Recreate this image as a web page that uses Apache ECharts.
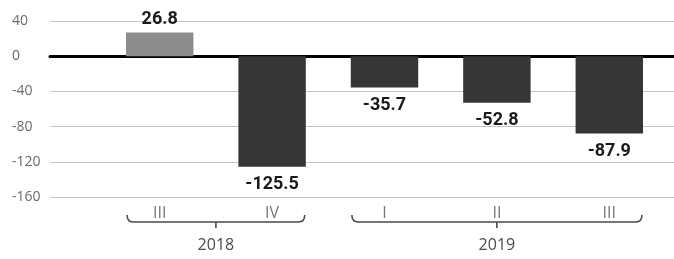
<!DOCTYPE html>
<html>
<head>
<meta charset="utf-8">
<script src="https://cdn.jsdelivr.net/npm/echarts@6/dist/echarts.min.js"></script>
<style>
  html, body { margin: 0; padding: 0; background: #fff; }
  #chart { width: 674px; height: 259px; }
</style>
</head>
<body>
<div id="chart"></div>
<script>
const quarters = ["III", "IV", "I", "II", "III"];
const values = [26.8, -125.5, -35.7, -52.8, -87.9];
const barColors = ["#8c8c8c", "#363636", "#363636", "#363636", "#363636"];
// year groups: first quarter index, last quarter index, label
const years = [[0, 1, "2018"], [2, 4, "2019"]];
const yTicks = { min: -160, max: 40, interval: 40 };

const GRID_TOP = 21;
const GRID_HEIGHT = 176;

const chart = echarts.init(document.getElementById("chart"));

const renderBracket = (params, api) => {
  const cs = params.coordSys;
  const band = api.size([1, 0])[0];
  const half = band * 0.29;
  const x0 = api.coord([api.value(0), 0])[0] - half;
  const x1 = api.coord([api.value(1), 0])[0] + half;
  const xc = (x0 + x1) / 2;
  const yb = cs.y + cs.height + 25;
  return {
    type: "group",
    children: [
      {
        type: "path",
        shape: {
          pathData:
            `M${x0} ${yb - 7} Q${x0} ${yb} ${x0 + 6} ${yb} L${x1 - 6} ${yb} Q${x1} ${yb} ${x1} ${yb - 7}` +
            ` M${xc} ${yb} L${xc} ${yb + 6}`,
        },
        style: { fill: null, stroke: "#4a4a4a", lineWidth: 1.6 },
      },
      {
        type: "text",
        style: {
          x: xc,
          y: yb + 23,
          text: api.value(2),
          fill: "#4a4a4a",
          font: "16px 'Open Sans'",
          align: "center",
          verticalAlign: "middle",
        },
      },
    ],
  };
};

chart.setOption({
  animation: false,
  grid: [
    { left: 50, right: 0, top: GRID_TOP, height: GRID_HEIGHT },
    { left: 103.5, right: 8.5, top: GRID_TOP, height: GRID_HEIGHT },
  ],
  xAxis: [
    {
      gridIndex: 0,
      type: "category",
      data: [""],
      axisLine: { show: true, onZero: true, lineStyle: { color: "#000", width: 3 } },
      axisTick: { show: false },
      axisLabel: { show: false },
    },
    {
      gridIndex: 1,
      type: "category",
      data: quarters,
      axisLine: { show: false },
      axisTick: { show: false },
      axisLabel: {
        color: "#777",
        fontSize: 16,
        fontFamily: "Open Sans",
        margin: 8,
      },
    },
  ],
  yAxis: [
    {
      gridIndex: 0,
      type: "value",
      ...yTicks,
      axisLine: { show: false },
      axisTick: { show: false },
      axisLabel: {
        color: "#6a6a6a",
        fontSize: 14,
        fontFamily: "Open Sans",
        align: "left",
        margin: 38,
      },
      splitLine: { lineStyle: { color: "#c4c4c4", width: 1 } },
    },
    {
      gridIndex: 1,
      type: "value",
      ...yTicks,
      show: false,
      splitLine: { show: false },
    },
  ],
  series: [
    {
      type: "bar",
      xAxisIndex: 1,
      yAxisIndex: 1,
      barWidth: "60%",
      data: values.map((v, i) => ({
        value: v,
        itemStyle: { color: barColors[i] },
        label: {
          show: true,
          position: v >= 0 ? "top" : "bottom",
          distance: v >= 0 ? 4 : 9,
        },
      })),
      label: {
        color: "#1a1a1a",
        fontSize: 18,
        fontWeight: "bold",
        fontFamily: "Roboto",
      },
      z: 3,
    },
    {
      type: "custom",
      xAxisIndex: 1,
      yAxisIndex: 1,
      data: years,
      renderItem: renderBracket,
      clip: false,
      silent: true,
    },
  ],
});
</script>
</body>
</html>
